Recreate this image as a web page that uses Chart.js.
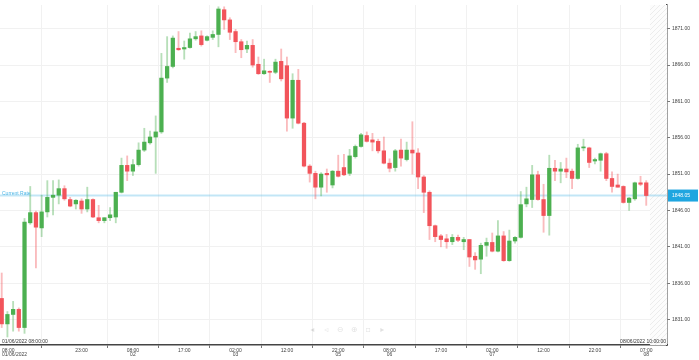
<!DOCTYPE html>
<html><head><meta charset="utf-8">
<script src="https://cdn.jsdelivr.net/npm/chart.js@4.4.1/dist/chart.umd.min.js"></script>
<style>html,body{margin:0;padding:0;background:#fff}#wrap{width:699px;height:360px;position:relative}</style>
</head><body><div id="wrap"><canvas id="c"></canvas></div>
<script>
const opens = [1833.9,1830.4,1831.7,1832.4,1829.9,1844.3,1845.7,1843.6,1845.8,1847.8,
1848.1,1849.0,1847.5,1846.9,1847.3,1846.2,1847.5,1845.0,1844.6,1845.0,
1845.1,1848.5,1852.2,1851.4,1852.3,1854.3,1855.3,1856.1,1856.8,1864.2,
1865.8,1868.3,1868.2,1868.4,1869.6,1870.0,1869.4,1869.8,1870.2,1873.6,
1872.2,1870.6,1869.2,1868.2,1868.7,1866.1,1864.8,1865.1,1865.0,1866.5,
1865.9,1858.7,1863.9,1858.0,1852.1,1851.1,1849.2,1851.1,1849.5,1851.4,
1851.9,1851.1,1853.4,1854.8,1856.3,1855.7,1855.5,1854.2,1852.5,1851.9,
1854.3,1853.0,1854.3,1853.9,1850.6,1848.5,1843.9,1842.5,1842.1,1841.7,
1842.3,1841.7,1842.0,1839.7,1839.3,1841.2,1841.6,1840.4,1842.5,1839.1,
1841.8,1842.3,1846.9,1847.5,1850.9,1847.5,1845.3,1851.8,1851.4,1851.7,
1851.4,1850.4,1854.6,1854.6,1852.8,1852.9,1853.8,1850.4,1849.5,1849.3,
1847.1,1847.6,1849.8,1849.8];
const highs = [1837.4,1832.1,1833.5,1832.6,1844.9,1849.3,1845.9,1848.1,1850.1,1850.1,
1850.2,1849.4,1847.8,1847.5,1847.6,1849.2,1847.6,1846.7,1845.0,1846.4,
1848.5,1853.2,1853.5,1853.0,1855.3,1857.3,1856.9,1859.0,1867.6,1869.9,
1870.0,1870.6,1869.3,1870.4,1870.6,1870.7,1870.0,1870.7,1874.0,1874.0,
1872.5,1870.9,1869.5,1869.3,1869.5,1867.1,1866.8,1865.2,1866.8,1868.2,
1867.1,1864.8,1865.4,1858.1,1852.3,1851.4,1851.2,1851.7,1851.5,1853.6,
1853.7,1854.4,1855.0,1856.6,1856.8,1856.6,1855.8,1856.1,1853.1,1854.4,
1855.8,1855.4,1858.2,1854.5,1850.8,1848.7,1844.0,1842.7,1842.7,1842.7,
1842.6,1842.3,1842.0,1840.2,1841.5,1842.2,1842.9,1844.6,1843.1,1843.3,
1842.4,1848.6,1849.2,1852.2,1851.4,1849.6,1853.6,1852.9,1852.6,1853.2,
1851.7,1855.1,1855.8,1854.7,1853.2,1853.9,1854.0,1851.3,1851.0,1849.4,
1847.8,1849.9,1850.7,1850.1];
const lows = [1829.9,1828.6,1829.4,1829.4,1829.1,1844.1,1838.1,1842.4,1845.1,1845.4,
1846.9,1847.4,1846.5,1846.2,1845.6,1845.8,1845.0,1844.3,1844.3,1844.6,
1844.3,1848.4,1850.1,1850.8,1852.1,1854.1,1855.1,1851.1,1856.6,1863.6,
1865.6,1868.0,1866.8,1868.3,1869.4,1868.6,1869.3,1869.5,1868.5,1870.9,
1869.5,1867.7,1867.0,1867.7,1865.7,1864.7,1864.7,1863.6,1864.8,1863.8,
1856.9,1857.3,1857.9,1852.0,1849.9,1847.6,1848.0,1848.5,1849.1,1850.6,
1850.8,1850.8,1853.2,1854.7,1855.4,1854.2,1853.9,1852.4,1851.3,1851.4,
1852.1,1852.8,1851.0,1849.0,1845.7,1842.0,1841.7,1841.0,1840.8,1841.3,
1841.7,1840.6,1838.3,1837.9,1837.3,1839.7,1840.3,1840.3,1839.0,1839.0,
1841.5,1842.2,1846.5,1846.4,1847.4,1843.0,1842.6,1850.1,1849.8,1850.5,
1849.0,1850.3,1854.2,1851.9,1852.4,1851.4,1850.1,1848.5,1849.2,1847.0,
1846.0,1847.4,1849.4,1846.7];
const closes = [1830.4,1831.7,1832.4,1829.9,1844.4,1845.7,1843.7,1845.8,1847.8,1848.1,
1849.0,1847.6,1846.6,1847.4,1846.2,1847.5,1845.1,1844.6,1845.0,1845.4,
1848.5,1852.2,1851.4,1852.3,1854.3,1855.4,1856.1,1856.8,1864.2,1865.8,
1869.7,1868.1,1868.4,1869.6,1869.9,1868.8,1869.9,1870.2,1873.7,1872.2,
1870.5,1869.2,1868.1,1868.7,1866.0,1864.8,1865.2,1865.0,1866.4,1864.1,
1858.7,1863.9,1858.0,1852.1,1851.1,1849.2,1851.0,1850.9,1851.4,1850.7,
1850.9,1853.5,1854.8,1856.4,1855.5,1855.4,1854.2,1852.5,1851.8,1854.2,
1853.2,1854.3,1853.9,1850.6,1848.5,1843.9,1842.4,1842.0,1841.7,1842.3,
1841.9,1842.0,1839.6,1839.2,1841.2,1841.6,1840.4,1842.5,1839.1,1841.8,
1842.3,1846.8,1847.6,1850.9,1847.5,1845.3,1851.8,1851.4,1851.7,1851.3,
1850.4,1854.6,1854.7,1852.6,1853.0,1853.8,1850.4,1849.3,1849.2,1847.1,
1847.7,1849.8,1849.6,1848.05];
const currentRate = 1848.05;
const yTicks = [1831,1836,1841,1846,1851,1856,1861,1866,1871];
const xTickIdx = [0,14,23,32,41,50,59,68,77,86,95,104,113];
const xTickTime = ['08:00','23:00','08:00','17:00','02:00','12:00','22:00','08:00','17:00','02:00','12:00','22:00','07:00'];
const xTickDate = ['01/06/2022','','02','','03','','05','06','','07','','','08'];
const startLabel = '01/06/2022 08:00:00';
const endLabel = '08/06/2022 10:00:00';

const GREEN = '#4cb050', RED = '#f2545b';
const GREEN_W = 'rgba(76,176,80,0.4)', RED_W = 'rgba(242,84,91,0.4)';
const FONT = "'Liberation Sans', Arial, sans-serif";
const up = i => closes[i] >= opens[i];

const bodies = opens.map((o, i) => ({x: i, y: [o, closes[i]]}));
const wicks = lows.map((l, i) => ({x: i, y: [l, highs[i]]}));

function makePattern(ctx){
  const c = document.createElement('canvas'); c.width = 5; c.height = 5;
  const g = c.getContext('2d');
  g.fillStyle = '#fcfcfc'; g.fillRect(0,0,5,5);
  g.strokeStyle = '#ececec'; g.lineWidth = 1;
  g.beginPath(); g.moveTo(-1,6); g.lineTo(6,-1); g.stroke();
  return ctx.createPattern(c, 'repeat');
}

const overlay = {
  id: 'overlay',
  beforeDatasetsDraw(chart){
    const {ctx, chartArea: a, scales: {x, y}} = chart;
    ctx.save();
    const x0 = x.getPixelForValue(opens.length - 1 + 0.65);
    ctx.fillStyle = makePattern(ctx);
    ctx.fillRect(x0, a.top, a.right - x0, a.bottom - a.top);
    const yr = y.getPixelForValue(currentRate);
    ctx.strokeStyle = 'rgba(120,200,235,0.45)';
    ctx.lineWidth = 2;
    ctx.beginPath(); ctx.moveTo(a.left, yr); ctx.lineTo(a.right, yr); ctx.stroke();
    ctx.restore();
  },
  afterDraw(chart){
    const {ctx, chartArea: a, scales: {x, y}} = chart;
    ctx.save();
    ctx.font = '5px ' + FONT;
    ctx.textBaseline = 'alphabetic';
    // x labels
    ctx.fillStyle = '#444';
    xTickIdx.forEach((idx, k) => {
      const px = x.getPixelForValue(idx);
      const first = k === 0;
      ctx.textAlign = first ? 'left' : 'center';
      const tx = first ? a.left + 2 : px;
      ctx.fillText(xTickTime[k], tx, a.bottom + 7);
      if (xTickDate[k]) ctx.fillText(xTickDate[k], tx, a.bottom + 11);
    });
    // corner labels
    ctx.fillStyle = '#333';
    ctx.textAlign = 'left';
    ctx.fillText(startLabel, a.left + 2, a.bottom - 2);
    ctx.textAlign = 'right';
    ctx.fillText(endLabel, a.right - 1, a.bottom - 2);
    // current rate
    const yr = y.getPixelForValue(currentRate);
    ctx.fillStyle = '#4fb6e6';
    ctx.textAlign = 'left';
    ctx.fillText('Current Rate', a.left + 2, yr - 1);
    ctx.fillStyle = '#1fa6e0';
    ctx.fillRect(a.right + 1, yr - 6, 30, 12);
    ctx.fillStyle = '#fff';
    ctx.textBaseline = 'middle';
    ctx.fillText(currentRate.toFixed(2), a.right + 5, yr + 0.5);
    // nav icons
    ctx.fillStyle = 'rgba(0,0,0,0.12)';
    ctx.font = '8px ' + "'DejaVu Sans', sans-serif";
    ctx.textAlign = 'center';
    const icons = ['◂','◃','⊖','⊕','▫','▸'];
    icons.forEach((s, i) => ctx.fillText(s, a.left + (a.right - a.left) * 0.468 + i * 14, a.bottom - 15));
    ctx.restore();
  }
};

new Chart(document.getElementById('c'), {
  type: 'bar',
  data: {
    datasets: [
      {data: bodies, grouped: false, order: 0, barThickness: 3.6, minBarLength: 1,
       backgroundColor: c => up(c.dataIndex) ? GREEN : RED, borderWidth: 0},
      {data: wicks, grouped: false, order: 1, barThickness: 1.2,
       backgroundColor: c => up(c.dataIndex) ? GREEN_W : RED_W, borderWidth: 0}
    ]
  },
  options: {
    responsive: true, maintainAspectRatio: false, animation: false,
    layout: {padding: 0},
    plugins: {legend: {display: false}, tooltip: {enabled: false}},
    scales: {
      x: {
        type: 'linear', min: -0.3, max: 116.64, offset: false,
        afterBuildTicks: s => { s.ticks = xTickIdx.map(v => ({value: v})); },
        afterFit: s => { s.height = 15; },
        ticks: {display: false},
        grid: {color: '#f1f1f1', tickLength: 3, tickColor: '#777', drawTicks: true},
        border: {color: '#444', width: 1.5}
      },
      y: {
        position: 'right', min: 1827.5, max: 1874.25,
        afterBuildTicks: s => { s.ticks = yTicks.map(v => ({value: v})); },
        afterFit: s => { s.width = 32; },
        ticks: {font: {size: 5, family: FONT}, color: '#444', padding: 2, callback: v => Number(v).toFixed(2)},
        grid: {color: '#f1f1f1', tickLength: 3, tickColor: '#777'},
        border: {color: '#444', width: 1.5}
      }
    }
  },
  plugins: [overlay]
});
</script></body></html>
